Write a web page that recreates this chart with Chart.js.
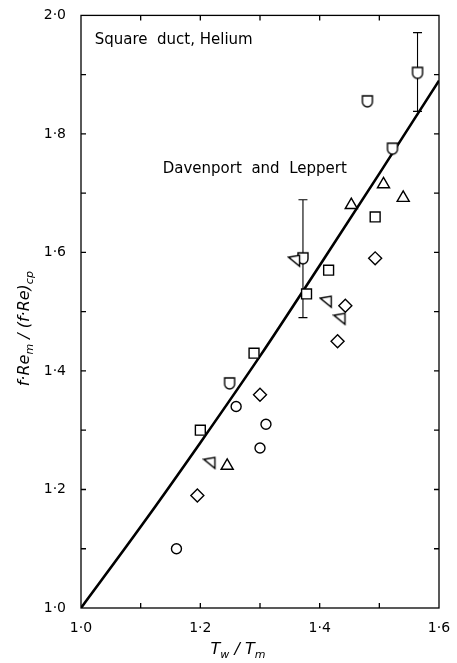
<!DOCTYPE html>
<html>
<head>
<meta charset="utf-8">
<script src="https://cdn.jsdelivr.net/npm/chart.js@4.4.1/dist/chart.umd.min.js"></script>
<style>
  html, body { margin: 0; padding: 0; background: #fff; }
  canvas { display: block; }
</style>
</head>
<body>
<canvas id="graph" width="457" height="663"></canvas>
<script>
// data
const circleX = [1.16, 1.26, 1.31, 1.30];
const circleY = [1.10, 1.34, 1.31, 1.27];
const squareX = [1.20, 1.29, 1.378, 1.415, 1.493];
const squareY = [1.30, 1.43, 1.53, 1.57, 1.66];
const diamondX = [1.195, 1.30, 1.43, 1.443, 1.493];
const diamondY = [1.19, 1.36, 1.45, 1.51, 1.59];
const triUpX = [1.245, 1.453, 1.507, 1.54];
const triUpY = [1.24, 1.68, 1.715, 1.692];
const triLeftX = [1.216, 1.358, 1.411, 1.434];
const triLeftY = [1.245, 1.586, 1.517, 1.488];
const shieldX = [1.249, 1.372, 1.48, 1.522, 1.564];
const shieldY = [1.379, 1.59, 1.855, 1.775, 1.903];
const fitX = [1.0, 1.1, 1.2, 1.3, 1.4, 1.5, 1.6];
const fitY = [1.0, 1.137, 1.279, 1.425, 1.578, 1.733, 1.89];
const errX = [1.372, 1.564];
const errLow = [1.49, 1.838];
const errHigh = [1.689, 1.971];
const xMin = 1.0, xMax = 1.6, yMin = 1.0, yMax = 2.0;
const minorStep = 0.1;

const pts = (xs, ys) => xs.map((x, i) => ({x: x, y: ys[i]}));
const fmt = v => v.toFixed(1).replace('.', '\u00b7');

// hollow marker glyphs
function glyph(w, h, draw) {
  const c = document.createElement('canvas');
  c.width = w; c.height = h;
  const g = c.getContext('2d');
  g.lineWidth = 1.4;
  g.strokeStyle = '#000';
  g.fillStyle = '#fff';
  g.beginPath();
  draw(g);
  g.closePath();
  g.fill();
  g.stroke();
  return c;
}
const shieldImg = glyph(14, 15, g => {
  g.moveTo(2, 2); g.lineTo(12, 2); g.lineTo(12, 8);
  g.arc(7, 8, 5, 0, Math.PI); g.lineTo(2, 2);
});
const triLeftImg = glyph(15, 15, g => {
  g.moveTo(1.5, 4); g.lineTo(12.5, 2); g.lineTo(12.5, 13);
});

const extras = {
  id: 'extras',
  beforeDatasetsDraw(chart) {
    const ctx = chart.ctx, xs = chart.scales.x, ys = chart.scales.y;
    ctx.save();
    ctx.strokeStyle = '#000';
    ctx.lineWidth = 1.1;
    errX.forEach((x, i) => {
      const px = xs.getPixelForValue(x);
      const lo = ys.getPixelForValue(errLow[i]), hi = ys.getPixelForValue(errHigh[i]);
      ctx.beginPath();
      ctx.moveTo(px, lo); ctx.lineTo(px, hi);
      ctx.moveTo(px - 4.5, lo); ctx.lineTo(px + 4.5, lo);
      ctx.moveTo(px - 4.5, hi); ctx.lineTo(px + 4.5, hi);
      ctx.stroke();
    });
    ctx.restore();
  },
  afterDraw(chart) {
    const ctx = chart.ctx, a = chart.chartArea, xs = chart.scales.x, ys = chart.scales.y;
    ctx.save();
    ctx.strokeStyle = '#000';
    ctx.lineWidth = 1.3;
    ctx.strokeRect(a.left, a.top, a.right - a.left, a.bottom - a.top);
    ctx.beginPath();
    for (let v = xMin + minorStep; v < xMax - 1e-6; v += minorStep) {
      const px = xs.getPixelForValue(v);
      ctx.moveTo(px, a.bottom); ctx.lineTo(px, a.bottom - 5);
      ctx.moveTo(px, a.top); ctx.lineTo(px, a.top + 5);
    }
    for (let v = yMin + minorStep; v < yMax - 1e-6; v += minorStep) {
      const py = ys.getPixelForValue(v);
      ctx.moveTo(a.left, py); ctx.lineTo(a.left + 5, py);
      ctx.moveTo(a.right, py); ctx.lineTo(a.right - 5, py);
    }
    ctx.stroke();

    // annotations
    ctx.fillStyle = '#000';
    ctx.font = '15px "DejaVu Sans"';
    ctx.textBaseline = 'middle';
    ctx.textAlign = 'left';
    ctx.fillText('Square  duct, Helium', xs.getPixelForValue(1.023), ys.getPixelForValue(1.958));
    ctx.fillText('Davenport  and  Leppert', xs.getPixelForValue(1.137), ys.getPixelForValue(1.741));

    // axis titles with subscripts
    const drawParts = (parts, cx, cy) => {
      let total = 0;
      parts.forEach(p => {
        ctx.font = p[1] ? 'italic 11px "DejaVu Sans"' : 'italic 16px "DejaVu Sans"';
        p.w = ctx.measureText(p[0]).width;
        total += p.w;
      });
      let x = cx - total / 2;
      parts.forEach(p => {
        ctx.font = p[1] ? 'italic 11px "DejaVu Sans"' : 'italic 16px "DejaVu Sans"';
        ctx.fillText(p[0], x, cy + (p[1] ? 5 : 0));
        x += p.w;
      });
    };
    ctx.textAlign = 'left';
    ctx.textBaseline = 'middle';
    drawParts([['T', 0], ['w', 1], [' / ', 0], ['T', 0], ['m', 1]], (a.left + a.right) / 2 - 22, 650);
    ctx.translate(25, (a.top + a.bottom) / 2 + 17);
    ctx.rotate(-Math.PI / 2);
    drawParts([['f\u00b7Re', 0], ['m', 1], [' / (f\u00b7Re)', 0], ['cp', 1]], 0, 0);
    ctx.restore();
  }
};

const marker = (label, data, style, r, rot) => ({
  type: 'scatter', label: label, data: data,
  pointStyle: style, pointRadius: r, pointRotation: rot || 0,
  borderColor: '#000', backgroundColor: '#fff', pointBorderWidth: 1.4
});

new Chart('graph', {
  data: {
    datasets: [
      marker('circle', pts(circleX, circleY), 'circle', 5),
      marker('square', pts(squareX, squareY), 'rect', 7),
      marker('diamond', pts(diamondX, diamondY), 'rectRot', 6.5),
      marker('triangle', pts(triUpX, triUpY), 'triangle', 7),
      marker('left triangle', pts(triLeftX, triLeftY), triLeftImg, 6),
      marker('shield', pts(shieldX, shieldY), shieldImg, 6),
      {
        type: 'line', label: 'fit', data: pts(fitX, fitY),
        borderColor: '#000', borderWidth: 2.6, pointRadius: 0,
        cubicInterpolationMode: 'monotone', fill: false
      }
    ]
  },
  options: {
    responsive: false,
    animation: false,
    devicePixelRatio: 1,
    layout: {padding: {top: 14, right: 18, left: 0, bottom: 0}},
    plugins: {legend: {display: false}, tooltip: {enabled: false}},
    scales: {
      x: {
        type: 'linear', min: xMin, max: xMax,
        grid: {display: false}, border: {display: false},
        afterFit: s => { s.height = 55; },
        ticks: {stepSize: 0.2, padding: 4, color: '#000', maxRotation: 0,
                font: {family: 'DejaVu Sans', size: 14}, callback: fmt}
      },
      y: {
        type: 'linear', min: yMin, max: yMax,
        grid: {display: false}, border: {display: false},
        afterFit: s => { s.width = 81; },
        ticks: {stepSize: 0.2, padding: 7, color: '#000',
                font: {family: 'DejaVu Sans', size: 14}, callback: fmt}
      }
    }
  },
  plugins: [extras]
});
</script>
</body>
</html>
